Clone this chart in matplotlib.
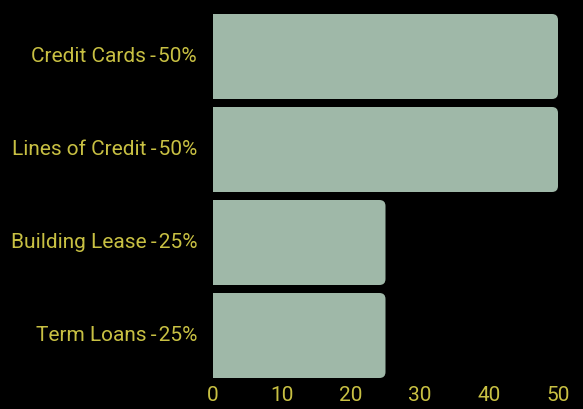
import matplotlib
matplotlib.use("Agg")
import matplotlib.pyplot as plt
import matplotlib.transforms as mtransforms
from matplotlib.patches import FancyBboxPatch

categories = ["Term Loans", "Building Lease", "Lines of Credit", "Credit Cards"]
values = [25, 25, 50, 50]
labels = [f"{c}\u2009-\u200a{v}%" for c, v in zip(categories, values)]
xticks = [0, 10, 20, 30, 40, 50]

W, H = 583, 409
fig = plt.figure(figsize=(W / 100, H / 100), dpi=100, facecolor="black")
ax = fig.add_axes([213 / W, 1 - 382 / H, (558 - 213) / W, 372 / H])
ax.set_facecolor("black")

text_color = "#c8c043"
bar_color = "#9fb8a8"
bar_h = 0.914

ax.set_xlim(0, 50)
ax.set_ylim(-0.5, 3.5)

# data units per pixel
xpp = 50 / (558 - 213)
ypp = 4 / 372
radius_px = 6
bars = ax.barh(range(len(values)), values, height=bar_h, color=bar_color)
for b in bars:
    b.set_visible(False)
    x0 = -3
    w = b.get_width() - x0
    p = FancyBboxPatch((x0, b.get_y()), w, b.get_height(),
                       boxstyle=f"round,pad=0,rounding_size={radius_px * xpp}",
                       mutation_aspect=ypp / xpp,
                       facecolor=bar_color, edgecolor="none", clip_on=True)
    ax.add_patch(p)
    p.set_clip_path(ax.patch)

ax.set_yticks(range(len(values)))
ax.set_yticklabels(labels)
ax.set_xticks(xticks)
ax.set_xticklabels([str(t) for t in xticks])
for s in ax.spines.values():
    s.set_visible(False)
ax.tick_params(axis="y", length=0, pad=11.5, labelcolor=text_color, labelsize=15)
ax.tick_params(axis="x", length=0, pad=3, labelcolor=text_color, labelsize=15)
for t in ax.get_xticklabels() + ax.get_yticklabels():
    t.set_fontfamily(["Roboto", "DejaVu Sans"])
shift = mtransforms.ScaledTranslation(0, 2 / 100, fig.dpi_scale_trans)
for t in ax.get_yticklabels():
    t.set_transform(t.get_transform() + shift)

fig.savefig("out.png", dpi=100, facecolor="black")
